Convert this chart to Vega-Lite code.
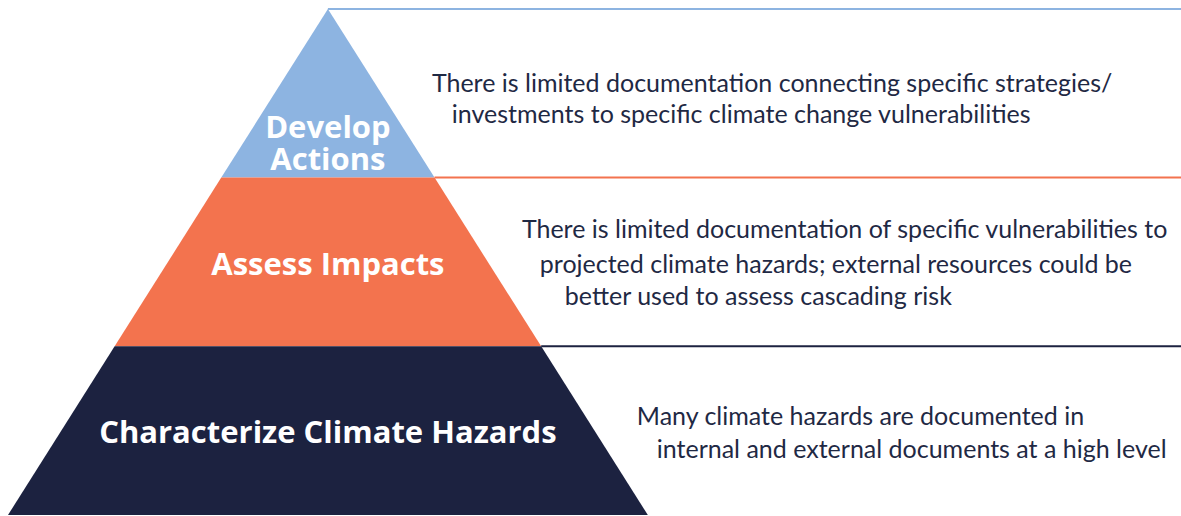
{
  "$schema": "https://vega.github.io/schema/vega-lite/v6.json",
  "width": 1181,
  "height": 516,
  "padding": 0,
  "autosize": {"type": "none"},
  "background": "white",
  "config": {"view": {"stroke": null}},
  "datasets": {
    "tiers": [
      {"tier": "Develop Actions", "level": 3, "left": 0, "right": 0},
      {"tier": "Develop Actions", "level": 2, "left": -1, "right": 1},
      {"tier": "Assess Impacts", "level": 2, "left": -1, "right": 1},
      {"tier": "Assess Impacts", "level": 1, "left": -2, "right": 2},
      {"tier": "Characterize Climate Hazards", "level": 1, "left": -2, "right": 2},
      {"tier": "Characterize Climate Hazards", "level": 0, "left": -3, "right": 3}
    ],
    "lines": [
      {"tier": "Develop Actions", "level": 3, "start": 0, "end": 8.2},
      {"tier": "Assess Impacts", "level": 2, "start": 1, "end": 8.2},
      {"tier": "Characterize Climate Hazards", "level": 1, "start": 2, "end": 8.2}
    ],
    "labels": [
      {"text": "Develop\nActions", "cx": 0, "cy": 2.235},
      {"text": "Assess Impacts", "cx": 0, "cy": 1.423},
      {"text": "Characterize Climate Hazards", "cx": 0, "cy": 0.427}
    ],
    "notes": [
      {"text": "There is limited documentation connecting specific strategies/", "nx": 0.975, "ny": 2.508},
      {"text": "investments to specific climate change vulnerabilities", "nx": 1.162, "ny": 2.324},
      {"text": "There is limited documentation of specific vulnerabilities to", "nx": 1.819, "ny": 1.642},
      {"text": "projected climate hazards; external resources could be", "nx": 1.987, "ny": 1.435},
      {"text": "better used to assess cascading risk", "nx": 2.222, "ny": 1.245},
      {"text": "Many climate hazards are documented in", "nx": 2.897, "ny": 0.534},
      {"text": "internal and external documents at a high level", "nx": 3.084, "ny": 0.338}
    ]
  },
  "layer": [
    {
      "data": {"name": "tiers"},
      "mark": {"type": "area", "orient": "horizontal"},
      "encoding": {
        "y": {"field": "level", "type": "quantitative", "scale": {"domain": [-0.006, 3.053], "nice": false, "zero": false}, "axis": null},
        "x": {"field": "left", "type": "quantitative", "scale": {"domain": [-3.075, 8.0], "nice": false, "zero": false}, "axis": null},
        "x2": {"field": "right"},
        "color": {
          "field": "tier", "type": "nominal", "legend": null,
          "scale": {"domain": ["Develop Actions", "Assess Impacts", "Characterize Climate Hazards"], "range": ["#8db4e1", "#f3734e", "#1c2240"]}
        }
      }
    },
    {
      "data": {"name": "lines"},
      "mark": {"type": "rule", "strokeWidth": 2},
      "encoding": {
        "y": {"field": "level", "type": "quantitative"},
        "x": {"field": "start", "type": "quantitative"},
        "x2": {"field": "end"},
        "color": {"field": "tier", "type": "nominal", "legend": null}
      }
    },
    {
      "data": {"name": "labels"},
      "mark": {"type": "text", "font": "Open Sans", "fontWeight": "bold", "fontSize": 31, "lineBreak": "\n", "lineHeight": 32, "color": "white", "align": "center", "baseline": "alphabetic"},
      "encoding": {
        "x": {"field": "cx", "type": "quantitative"},
        "y": {"field": "cy", "type": "quantitative"},
        "text": {"field": "text"}
      }
    },
    {
      "data": {"name": "notes"},
      "mark": {"type": "text", "font": "Lato", "fontSize": 25, "color": "#1f2944", "align": "left", "baseline": "alphabetic"},
      "encoding": {
        "x": {"field": "nx", "type": "quantitative"},
        "y": {"field": "ny", "type": "quantitative"},
        "text": {"field": "text"}
      }
    }
  ]
}
